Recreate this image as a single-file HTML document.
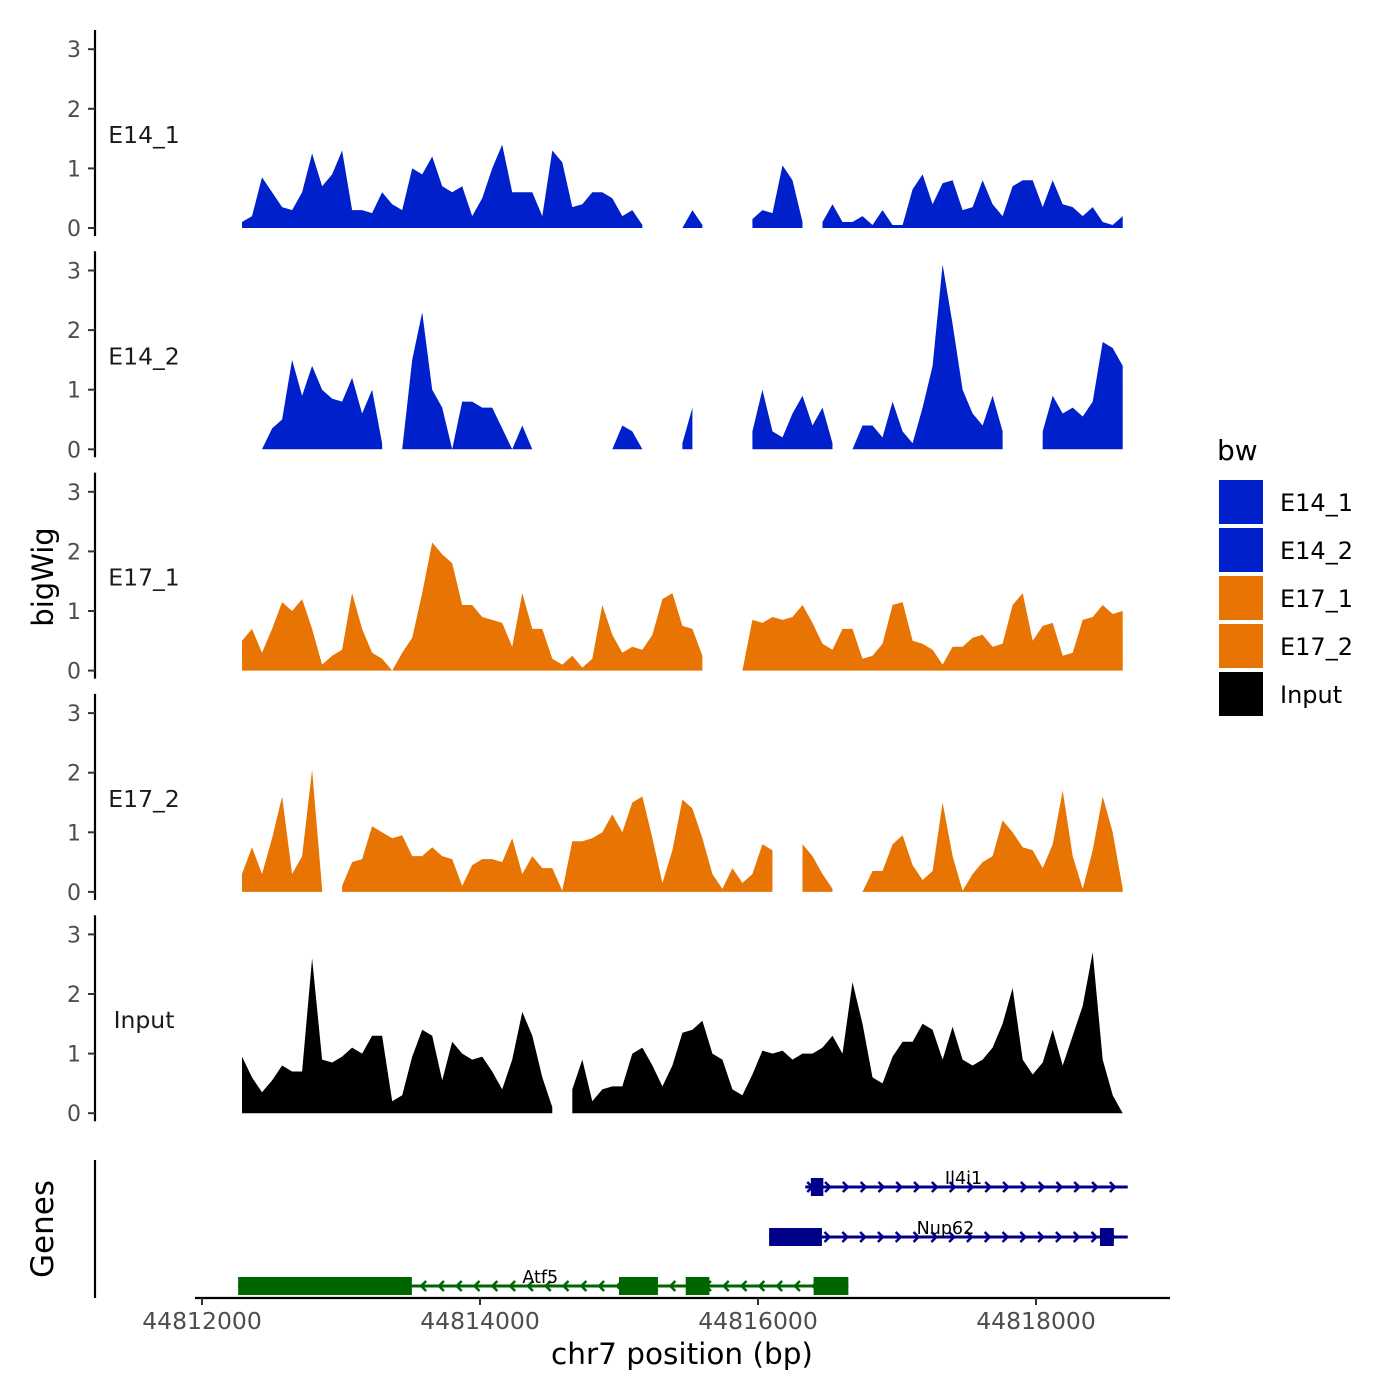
<!DOCTYPE html>
<html><head><meta charset="utf-8"><style>
html,body{margin:0;padding:0;background:#fff;}
svg{display:block;font-family:"DejaVu Sans","Liberation Sans",sans-serif;}
</style></head><body>
<svg id="chart" width="1400" height="1400" viewBox="0 0 1400 1400"></svg>
<script>
// ---- data ----
const startBp = 44812288;
const stepBp = 72;
const trackNames = ["E14_1","E14_2","E17_1","E17_2","Input"];
const trackColors = ["#0020cc","#0020cc","#e87503","#e87503","#000000"];
const E14_1 = [0.1,0.2,0.85,0.6,0.35,0.3,0.6,1.25,0.7,0.9,
1.3,0.3,0.3,0.25,0.6,0.4,0.3,1.0,0.9,1.2,
0.7,0.6,0.7,0.2,0.5,1.0,1.4,0.6,0.6,0.6,
0.2,1.3,1.1,0.35,0.4,0.6,0.6,0.5,0.2,0.3,
0.05,null,null,null,0,0.3,0.05,null,null,null,
null,0.15,0.3,0.25,1.05,0.8,0.1,null,0.1,0.4,
0.1,0.1,0.2,0.05,0.3,0.05,0.05,0.65,0.9,0.4,
0.75,0.8,0.3,0.35,0.8,0.4,0.2,0.7,0.8,0.8,
0.35,0.8,0.4,0.35,0.2,0.35,0.1,0.05,0.2];
const E14_2 = [0.2,null,0,0.35,0.5,1.5,0.9,1.4,1.0,0.85,
0.8,1.2,0.6,1.0,0.1,null,0,1.5,2.3,1.0,
0.7,0,0.8,0.8,0.7,0.7,0.35,0,0.4,0,
null,null,null,null,null,null,null,0,0.4,0.3,
0,null,null,null,0.1,0.7,null,null,null,null,
null,0.3,1.0,0.3,0.2,0.6,0.9,0.4,0.7,0.1,
null,0,0.4,0.4,0.2,0.8,0.3,0.1,0.7,1.4,
3.1,2.1,1.0,0.6,0.4,0.9,0.3,null,null,null,
0.3,0.9,0.6,0.7,0.55,0.8,1.8,1.7,1.4];
const E17_1 = [0.5,0.7,0.3,0.7,1.15,1.0,1.2,0.7,0.1,0.25,
0.35,1.3,0.7,0.3,0.2,0,0.3,0.55,1.3,2.15,
1.95,1.8,1.1,1.1,0.9,0.85,0.8,0.4,1.3,0.7,
0.7,0.2,0.1,0.25,0.05,0.2,1.1,0.6,0.3,0.4,
0.35,0.6,1.2,1.3,0.75,0.7,0.25,null,null,null,
0,0.85,0.8,0.9,0.85,0.9,1.1,0.8,0.45,0.35,
0.7,0.7,0.2,0.25,0.45,1.1,1.15,0.5,0.45,0.35,
0.1,0.4,0.4,0.55,0.6,0.4,0.45,1.1,1.3,0.5,
0.75,0.8,0.25,0.3,0.85,0.9,1.1,0.95,1.0];
const E17_2 = [0.3,0.75,0.3,0.9,1.6,0.3,0.6,2.05,0.05,null,
0.1,0.5,0.55,1.1,1.0,0.9,0.95,0.6,0.6,0.75,
0.6,0.55,0.1,0.45,0.55,0.55,0.5,0.9,0.3,0.6,
0.4,0.4,0.02,0.85,0.85,0.9,1.0,1.3,1.0,1.5,
1.6,0.9,0.15,0.7,1.55,1.4,0.9,0.3,0.05,0.4,
0.15,0.3,0.8,0.7,null,null,0.8,0.6,0.3,0.05,
null,null,0,0.35,0.35,0.8,0.95,0.45,0.2,0.35,
1.5,0.6,0.02,0.3,0.5,0.6,1.2,1.0,0.75,0.7,
0.4,0.8,1.7,0.6,0.05,0.7,1.6,1.0,0.05];
const Input = [0.95,0.6,0.35,0.55,0.8,0.7,0.7,2.6,0.9,0.85,
0.95,1.1,1.0,1.3,1.3,0.2,0.3,0.95,1.4,1.3,
0.55,1.2,1.0,0.9,0.95,0.7,0.4,0.9,1.7,1.3,
0.6,0.1,null,0.4,0.9,0.2,0.4,0.45,0.45,1.0,
1.1,0.8,0.45,0.8,1.35,1.4,1.55,1.0,0.9,0.4,
0.3,0.65,1.05,1.0,1.05,0.9,1.0,1.0,1.1,1.3,
1.0,2.2,1.5,0.6,0.5,0.95,1.2,1.2,1.5,1.4,
0.9,1.45,0.9,0.8,0.9,1.1,1.5,2.1,0.9,0.65,
0.85,1.4,0.8,1.3,1.8,2.7,0.9,0.3,0];
const trackValues = [E14_1,E14_2,E17_1,E17_2,Input];
const yTicks = [0,1,2,3];
const xTicks = [44812000,44814000,44816000,44818000];
const legendLabels = ["E14_1","E14_2","E17_1","E17_2","Input"];
const legendColors = ["#0020cc","#0020cc","#e87503","#e87503","#000000"];
const geneNames = ["Il4i1","Nup62","Atf5"];
const geneColors = ["#00008b","#00008b","#006400"];
const geneStarts = [44816340,44816080,44812260];
const geneEnds = [44818660,44818660,44816650];
const geneStrands = ["+","+","-"];
const geneExons = [
  [[44816380,44816470]],
  [[44816080,44816460],[44818460,44818560]],
  [[44812260,44813510],[44815000,44815280],[44815480,44815650],[44816400,44816650]]
];

// ---- scales ----
const NS="http://www.w3.org/2000/svg";
const svg=document.getElementById('chart');
const xs = bp => 202 + (bp-44812000)*278/2000;
const zeroY = [228,449.3,670.6,891.9,1113.2];
const unit = 59.6;
function el(tag,attrs,parent){const e=document.createElementNS(NS,tag);for(const k in attrs)e.setAttribute(k,attrs[k]);(parent||svg).appendChild(e);return e;}
function txt(s,attrs,parent){const e=el('text',attrs,parent);e.textContent=s;return e;}

trackNames.forEach((name,ti)=>{
  const g=el('g',{});
  
  
  const z=zeroY[ti];
  const ys=v=>z-v*unit;
  const vals=trackValues[ti];
  let seg=[];
  const segs=[];
  vals.forEach((v,i)=>{if(v===null){if(seg.length)segs.push(seg);seg=[];}else seg.push([xs(startBp+i*stepBp),ys(v)]);});
  if(seg.length)segs.push(seg);
  segs.forEach(s=>{
    let d='M'+s[0][0]+','+z;
    s.forEach(p=>d+=' L'+p[0].toFixed(1)+','+p[1].toFixed(1));
    d+=' L'+s[s.length-1][0]+','+z+' Z';
    const p=el('path',{d:d,fill:trackColors[ti],stroke:'none'},g);
    
    
  });
  const ax=el('line',{x1:95,x2:95,y1:z-198,y2:z+8,stroke:'#000','stroke-width':2.2},g);
  
  
  yTicks.forEach(t=>{
    el('line',{x1:88,x2:95,y1:ys(t),y2:ys(t),stroke:'#333','stroke-width':2},g);
    const tl=txt(String(t),{x:81,y:ys(t)+8,'text-anchor':'end','font-size':22,fill:'#4d4d4d'},g);
    
    
  });
  const fl=txt(name,{x:144,y:z-85,'text-anchor':'middle','font-size':23.5,fill:'#1a1a1a'},g);
  
  
});

const yt=txt('bigWig',{x:0,y:0,transform:'translate(53,577) rotate(-90)','text-anchor':'middle','font-size':29,fill:'#000'});



const gg=el('g',{});


el('line',{x1:95,x2:95,y1:1160,y2:1298,stroke:'#000','stroke-width':2.2},gg);
const gt=txt('Genes',{x:0,y:0,transform:'translate(53,1229) rotate(-90)','text-anchor':'middle','font-size':31,fill:'#000'},gg);


const rowY=[1187,1237,1286];
geneNames.forEach((n,gi)=>{
  const y=rowY[gi], c=geneColors[gi];
  const x1=xs(geneStarts[gi]), x2=xs(geneEnds[gi]);
  const ge=el('g',{},gg);
  
  
  el('line',{x1:x1,x2:x2,y1:y,y2:y,stroke:c,'stroke-width':3},ge);
  const dir=geneStrands[gi]==='+'?1:-1;
  for(let ax=x1+6; ax<=x2; ax+=17.8){
    el('polyline',{points:`${ax-4*dir},${y-5} ${ax+1*dir},${y} ${ax-4*dir},${y+5}`,fill:'none',stroke:c,'stroke-width':2.5},ge);
  }
  geneExons[gi].forEach(e=>{
    const r=el('rect',{x:xs(e[0]),y:y-9,width:xs(e[1])-xs(e[0]),height:18,fill:c},ge);
    
    
  });
  const lb=txt(n,{x:(x1+x2)/2-3,y:y-3,'text-anchor':'middle','font-size':17.5,fill:'#000'},ge);
  
  
});
const xa=el('g',{});


el('line',{x1:195,x2:1170,y1:1298,y2:1298,stroke:'#000','stroke-width':2.2},xa);
xTicks.forEach(t=>{
  el('line',{x1:xs(t),x2:xs(t),y1:1298,y2:1305,stroke:'#333','stroke-width':2},xa);
  const l=txt(String(t),{x:xs(t),y:1329,'text-anchor':'middle','font-size':23.5,fill:'#4d4d4d'},xa);
  
  
});
const xt=txt('chr7 position (bp)',{x:682,y:1364,'text-anchor':'middle','font-size':29.5,fill:'#000'},xa);



const lg=el('g',{});


const lt=txt('bw',{x:1217,y:460,'font-size':28,fill:'#000'},lg);


legendLabels.forEach((l,i)=>{
  const e=el('g',{},lg);
  
  
  el('rect',{x:1218,y:479+i*48,width:46,height:46,fill:legendColors[i],stroke:'#fff','stroke-width':2},e);
  txt(l,{x:1280,y:511+i*48,'font-size':24,fill:'#000'},e);
});
</script>
</body></html>
